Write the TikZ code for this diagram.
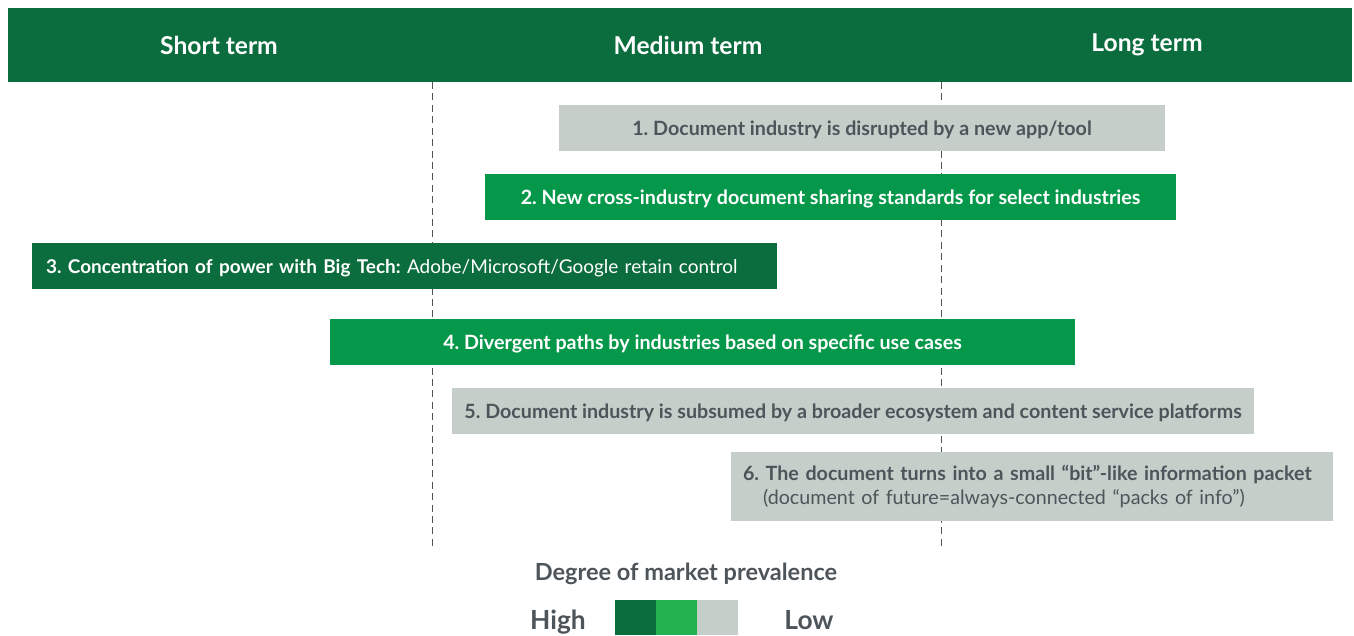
\documentclass[tikz,border=0pt]{standalone}
\usepackage{fontspec}
\setmainfont{Lato}
\usetikzlibrary{positioning}
\definecolor{darkgreen}{HTML}{0B6D3E}
\definecolor{midgreen}{HTML}{05984A}
\definecolor{lightgreen}{HTML}{22B14E}
\definecolor{lightgrey}{HTML}{C5CEC9}
\definecolor{textgrey}{HTML}{4E555A}
\frenchspacing

\begin{document}
\begin{tikzpicture}[x=0.02cm, y=-0.02cm,
    bar/.style ={rectangle, inner sep=0pt, minimum height=0.92cm, text depth=0pt, font=\fontsize{11.2}{13}\selectfont\bfseries},
    high/.style ={bar, fill=darkgreen, text=white},
    medium/.style ={bar, fill=midgreen, text=white},
    low/.style ={bar, fill=lightgrey, text=textgrey},
    period/.style ={text=white, font=\fontsize{14}{16}\selectfont\bfseries},
    swatch/.style ={rectangle, inner sep=0pt, outer sep=0pt, minimum width=0.82cm, minimum height=0.7cm},
    scale label/.style ={text=textgrey, anchor=base, font=\fontsize{15}{17}\selectfont\bfseries}]
   \useasboundingbox (0,0) rectangle (1354,635);
   % header band
   \node[rectangle, fill=darkgreen, inner sep=0pt, minimum width=26.88cm, minimum height=1.48cm] (header) at (680,45) {};
   \node[period] (short) at (219,45) {Short term};
   \node[period] (medium) at (688,45) {Medium term};
   \node[period] (long) at (1147,45) {Long term};
   % period borders
   \coordinate (m1) at (432,82);
   \coordinate (m2) at (432,548);
   \coordinate (l1) at (941,82);
   \coordinate (l2) at (941,548);
   \draw[textgrey, dash pattern=on 4pt off 2.5pt] (m1) to (m2);
   \draw[textgrey, dash pattern=on 4pt off 2.5pt] (l1) to (l2);
   % scenarios
   \node[low, minimum width=12.12cm] (s1) at (862,128) {1. Document industry is disrupted by a new app/tool};
   \node[medium, minimum width=13.82cm] (s2) at (830.5,197) {2. New cross-industry document sharing standards for select industries};
   \node[high, minimum width=14.9cm, text width=14.34cm, align=left, font=\fontsize{10.8}{13}\selectfont\bfseries] (s3) at (404.5,266)
      {\mbox{3. Concentration of power with Big Tech: \mdseries Adobe/Microsoft/Google retain control}};
   \node[medium, minimum width=14.9cm] (s4) at (702.5,342) {4. Divergent paths by industries based on specific use cases};
   \node[low, minimum width=16.04cm] (s5) at (853,411) {5. Document industry is subsumed by a broader ecosystem and content service platforms};
   \node[low, text depth={}, minimum width=12.04cm, minimum height=1.38cm, text width=11.56cm, align=left] (s6) at (1032,486.5)
      {6. The document turns into a small ``bit''-like information packet\\[1pt]
       \hspace*{0.4cm}\mdseries(document of future=always-connected ``packs of info'')};
   % legend
   \node[text=textgrey, font=\fontsize{13.4}{15}\selectfont\bfseries] (title) at (686,574) {Degree of market prevalence};
   \node[swatch, fill=darkgreen] (sw1) at (635.5,617.5) {};
   \node[swatch, fill=lightgreen, right=0pt of sw1] (sw2) {};
   \node[swatch, fill=lightgrey, right=0pt of sw2] (sw3) {};
   \node[scale label] (hi) at (558,629) {High};
   \node[scale label] (lo) at (809,629) {Low};
 \end{tikzpicture}
\end{document}
